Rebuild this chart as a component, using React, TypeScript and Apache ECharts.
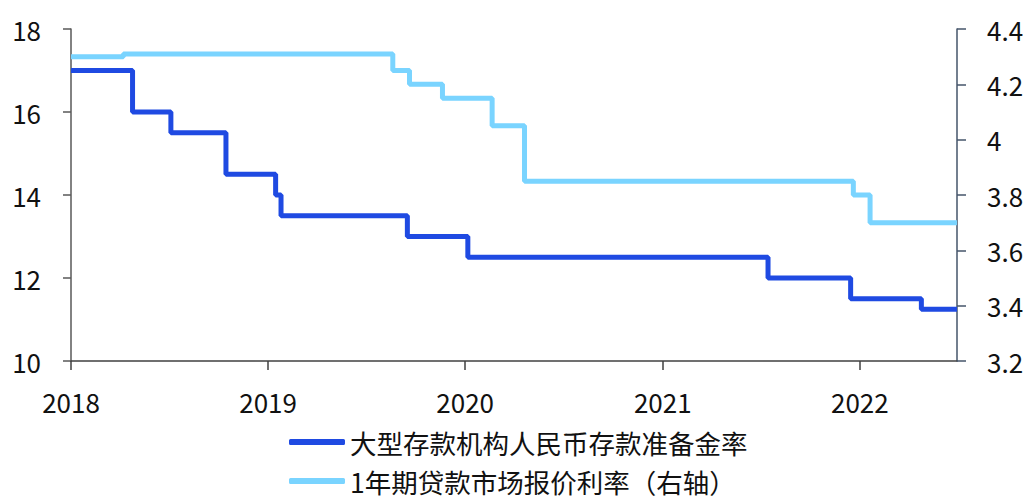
import React, { useEffect, useRef } from "react";
import * as echarts from "echarts";

const rrrName = "大型存款机构人民币存款准备金率";
const lprName = "1年期贷款市场报价利率（右轴）";

const rrrDates = [
  "2018-01-01", "2018-04-25", "2018-07-05", "2018-10-15", "2019-01-15", "2019-01-25",
  "2019-09-16", "2020-01-06", "2021-07-15", "2021-12-15", "2022-04-25", "2022-06-30",
];
const rrrValues = [17, 16, 15.5, 14.5, 14, 13.5, 13, 12.5, 12, 11.5, 11.25, 11.25];

const lprDates = [
  "2018-01-01", "2018-04-08", "2019-08-20", "2019-09-20", "2019-11-20", "2020-02-20",
  "2020-04-20", "2021-12-20", "2022-01-20", "2022-06-30",
];
const lprValues = [4.3, 4.31, 4.25, 4.2, 4.15, 4.05, 3.85, 3.8, 3.7, 3.7];

const yearTicks = ["2018-01-01", "2019-01-01", "2020-01-01", "2021-01-01", "2022-01-01"];
const xMin = "2018-01-01";
const xMax = "2022-06-30";

const FONT = "'Noto Sans CJK SC', 'Noto Sans', sans-serif";

export default function App() {
  const ref = useRef<HTMLDivElement>(null);
  useEffect(() => {
    if (!ref.current) return;
    const chart = echarts.init(ref.current, undefined, { renderer: "svg" });
    const ts = (s: string) => new Date(s + "T00:00:00").getTime();
    const tickVals = yearTicks.map(ts);
    const legendBase = {
      orient: "horizontal",
      left: 289,
      padding: 0,
      itemWidth: 56,
      itemHeight: 6,
      icon: "roundRect",
      textStyle: { fontFamily: FONT, fontSize: 26.5, color: "#111", lineHeight: 28 },
    };
    chart.setOption({
      animation: false,
      textStyle: { fontFamily: FONT },
      grid: { left: 71, right: 70, top: 29, bottom: 138, containLabel: false },
      legend: [
        { ...legendBase, top: 428, data: [rrrName] },
        { ...legendBase, top: 467, data: [lprName] },
      ],
      xAxis: {
        type: "value",
        min: ts(xMin),
        max: ts(xMax),
        axisLine: { show: true, lineStyle: { color: "#404040", width: 1.5 } },
        axisTick: {
          show: true,
          length: 9,
          customValues: tickVals,
          lineStyle: { color: "#404040", width: 1.5 },
        },
        axisLabel: {
          customValues: tickVals,
          margin: 27,
          fontSize: 26,
          color: "#111",
          fontFamily: FONT,
          formatter: (v: number) => String(new Date(v).getFullYear()),
        },
        splitLine: { show: false },
      },
      yAxis: [
        {
          type: "value",
          min: 10,
          max: 18,
          interval: 2,
          position: "left",
          axisLine: { show: true, lineStyle: { color: "#595959", width: 1.5 } },
          axisTick: { show: true, length: 8, lineStyle: { color: "#595959", width: 1.5 } },
          axisLabel: { margin: 30, fontSize: 26, color: "#111", fontFamily: FONT },
          splitLine: { show: false },
        },
        {
          type: "value",
          min: 3.2,
          max: 4.4,
          interval: 0.2,
          position: "right",
          axisLine: { show: true, lineStyle: { color: "#44546A", width: 1.5 } },
          axisTick: { show: true, length: 9, lineStyle: { color: "#44546A", width: 1.5 } },
          axisLabel: {
            margin: 30,
            fontSize: 26,
            color: "#111",
            fontFamily: FONT,
            formatter: (v: number) => String(Math.round(v * 10) / 10),
          },
          splitLine: { show: false },
        },
      ],
      series: [
        {
          name: rrrName,
          type: "line",
          yAxisIndex: 0,
          step: "end",
          showSymbol: false,
          symbol: "none",
          color: "#1F4AE2",
          lineStyle: { color: "#1F4AE2", width: 5 },
          data: rrrDates.map((d, i) => [ts(d), rrrValues[i]]),
        },
        {
          name: lprName,
          type: "line",
          yAxisIndex: 1,
          step: "end",
          showSymbol: false,
          symbol: "none",
          color: "#7AD4FF",
          lineStyle: { color: "#7AD4FF", width: 5 },
          data: lprDates.map((d, i) => [ts(d), lprValues[i]]),
        },
      ],
    });
    return () => chart.dispose();
  }, []);
  return (
    <div
      ref={ref}
      style={{ position: "fixed", left: 0, top: 0, width: 1027, height: 499, background: "#fff" }}
    />
  );
}
